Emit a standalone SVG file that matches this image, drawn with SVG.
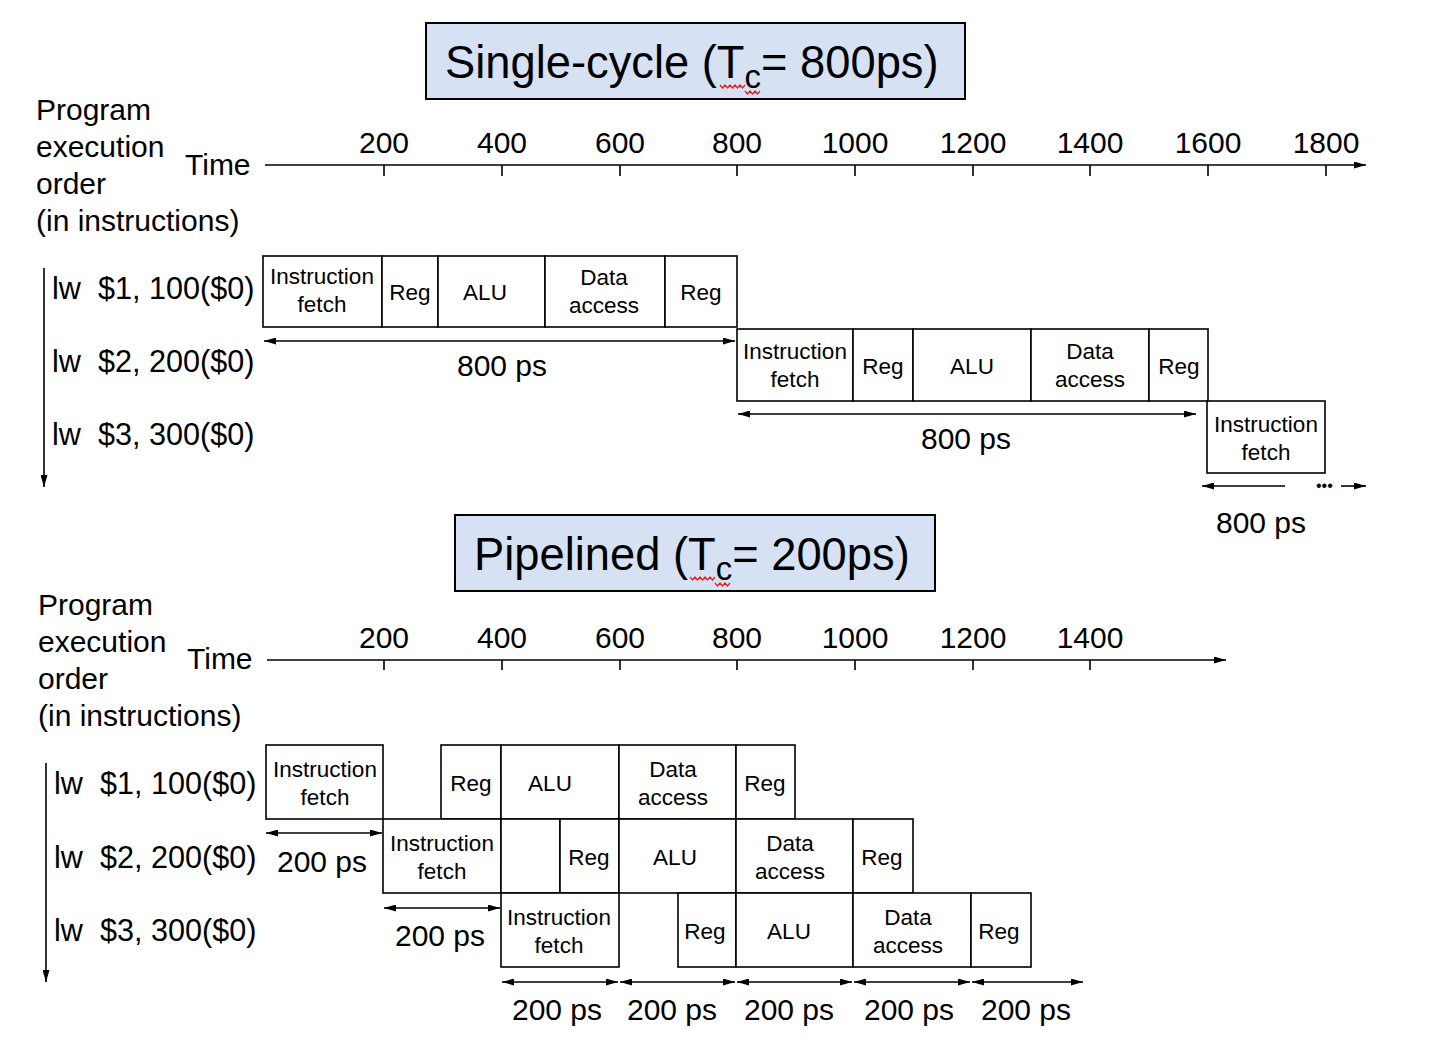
<svg xmlns="http://www.w3.org/2000/svg" width="1434" height="1060" viewBox="0 0 1434 1060">
<style>
text{font-family:"Liberation Sans",Arial,sans-serif;fill:#000}
.lbl{font-size:30px}
.ins{font-size:30.6px}
.mid{text-anchor:middle}
.box{font-size:22.5px;text-anchor:middle}
.ttl{font-size:45.3px}
.sub{font-size:33px}
rect.st{fill:#fff;stroke:#000;stroke-width:1.6}
rect.tb{fill:#d6e2f4;stroke:#000;stroke-width:2}
.ln{stroke:#000;stroke-width:1.6;fill:none}
.arr{stroke:#000;stroke-width:1.6;fill:none;marker-end:url(#ah)}
.dbl{stroke:#000;stroke-width:1.6;fill:none;marker-end:url(#ah);marker-start:url(#ah)}
.sq{stroke:#e02020;stroke-width:1.3;fill:none}
</style>
<defs>
<marker id="ah" viewBox="0 0 12 7" refX="12" refY="3.5" markerWidth="12" markerHeight="7" markerUnits="userSpaceOnUse" orient="auto-start-reverse"><path d="M0,0 L12,3.5 L0,7 z" fill="#000"/></marker>
</defs>
<rect width="1434" height="1060" fill="#fff"/>

<!-- Titles -->
<g id="title-single">
<rect class="tb" x="426" y="23" width="539" height="76"/>
<text class="ttl" x="445" y="78">Single-cycle (T<tspan class="sub" dy="10">c</tspan><tspan dy="-10">= 800ps)</tspan></text>
<polyline class="sq" points="720,85 722.5,88 725,85 727.5,88 730,85 732.5,88 735,85 737.5,88 740,85 742.5,88 745,85"/>
<polyline class="sq" points="745,91 747.5,94 750,91 752.5,94 755,91 757.5,94 760,91"/>
</g>
<g id="title-pipe">
<rect class="tb" x="455" y="515" width="480" height="76"/>
<text class="ttl" x="474" y="570">Pipelined (T<tspan class="sub" dy="10">c</tspan><tspan dy="-10">= 200ps)</tspan></text>
<polyline class="sq" points="690,577 692.5,580 695,577 697.5,580 700,577 702.5,580 705,577 707.5,580 710,577 712.5,580 715,577"/>
<polyline class="sq" points="715,583 717.5,586 720,583 722.5,586 725,583 727.5,586 730,583"/>
</g>

<!-- Single-cycle labels -->
<g id="labels-single">
<text class="lbl" x="36" y="120">Program</text>
<text class="lbl" x="36" y="157">execution</text>
<text class="lbl" x="36" y="194">order</text>
<text class="lbl" x="36" y="231">(in instructions)</text>
<text class="lbl" x="185" y="175">Time</text>
<text class="lbl mid" x="384" y="153">200</text>
<text class="lbl mid" x="502" y="153">400</text>
<text class="lbl mid" x="620" y="153">600</text>
<text class="lbl mid" x="737" y="153">800</text>
<text class="lbl mid" x="855" y="153">1000</text>
<text class="lbl mid" x="973" y="153">1200</text>
<text class="lbl mid" x="1090" y="153">1400</text>
<text class="lbl mid" x="1208" y="153">1600</text>
<text class="lbl mid" x="1326" y="153">1800</text>
<text class="ins" x="52" y="299">lw&#160; $1, 100($0)</text>
<text class="ins" x="52" y="372">lw&#160; $2, 200($0)</text>
<text class="ins" x="52" y="445">lw&#160; $3, 300($0)</text>
<text class="lbl mid" x="502" y="376">800 ps</text>
<text class="lbl mid" x="966" y="449">800 ps</text>
<text class="lbl mid" x="1261" y="533">800 ps</text>
<text x="1316" y="491" style="font-size:16px">•••</text>
</g>

<!-- Pipelined labels -->
<g id="labels-pipe">
<text class="lbl" x="38" y="615">Program</text>
<text class="lbl" x="38" y="652">execution</text>
<text class="lbl" x="38" y="689">order</text>
<text class="lbl" x="38" y="726">(in instructions)</text>
<text class="lbl" x="187" y="669">Time</text>
<text class="lbl mid" x="384" y="648">200</text>
<text class="lbl mid" x="502" y="648">400</text>
<text class="lbl mid" x="620" y="648">600</text>
<text class="lbl mid" x="737" y="648">800</text>
<text class="lbl mid" x="855" y="648">1000</text>
<text class="lbl mid" x="973" y="648">1200</text>
<text class="lbl mid" x="1090" y="648">1400</text>
<text class="ins" x="54" y="794">lw&#160; $1, 100($0)</text>
<text class="ins" x="54" y="868">lw&#160; $2, 200($0)</text>
<text class="ins" x="54" y="941">lw&#160; $3, 300($0)</text>
<text class="lbl mid" x="322" y="872">200 ps</text>
<text class="lbl mid" x="440" y="946">200 ps</text>
<text class="lbl mid" x="557" y="1020">200 ps</text>
<text class="lbl mid" x="672" y="1020">200 ps</text>
<text class="lbl mid" x="789" y="1020">200 ps</text>
<text class="lbl mid" x="909" y="1020">200 ps</text>
<text class="lbl mid" x="1026" y="1020">200 ps</text>
</g>

<!-- Single-cycle stages -->
<g id="s1">
<rect class="st" x="263" y="256" width="119" height="71"/>
<rect class="st" x="382" y="256" width="56" height="71"/>
<rect class="st" x="438" y="256" width="107" height="71"/>
<rect class="st" x="545" y="256" width="120" height="71"/>
<rect class="st" x="665" y="256" width="72" height="71"/>
<text class="box" x="322" y="284">Instruction</text><text class="box" x="322" y="312">fetch</text>
<text class="box" x="410" y="300">Reg</text>
<text class="box" x="485" y="300">ALU</text>
<text class="box" x="604" y="285">Data</text><text class="box" x="604" y="313">access</text>
<text class="box" x="701" y="300">Reg</text>
</g>
<g id="s2">
<rect class="st" x="737" y="329" width="116" height="72"/>
<rect class="st" x="853" y="329" width="60" height="72"/>
<rect class="st" x="913" y="329" width="118" height="72"/>
<rect class="st" x="1031" y="329" width="118" height="72"/>
<rect class="st" x="1149" y="329" width="59" height="72"/>
<text class="box" x="795" y="359">Instruction</text><text class="box" x="795" y="387">fetch</text>
<text class="box" x="883" y="374">Reg</text>
<text class="box" x="972" y="374">ALU</text>
<text class="box" x="1090" y="359">Data</text><text class="box" x="1090" y="387">access</text>
<text class="box" x="1179" y="374">Reg</text>
</g>
<g id="s3">
<rect class="st" x="1207" y="401" width="118" height="72"/>
<text class="box" x="1266" y="432">Instruction</text><text class="box" x="1266" y="460">fetch</text>
</g>

<!-- Pipelined stages -->
<g id="p1">
<rect class="st" x="266" y="745" width="117" height="74"/>
<rect class="st" x="441" y="745" width="60" height="74"/>
<rect class="st" x="501" y="745" width="118" height="74"/>
<rect class="st" x="619" y="745" width="117" height="74"/>
<rect class="st" x="736" y="745" width="59" height="74"/>
<text class="box" x="325" y="777">Instruction</text><text class="box" x="325" y="805">fetch</text>
<text class="box" x="471" y="791">Reg</text>
<text class="box" x="550" y="791">ALU</text>
<text class="box" x="673" y="777">Data</text><text class="box" x="673" y="805">access</text>
<text class="box" x="765" y="791">Reg</text>
</g>
<g id="p2">
<rect class="st" x="383" y="819" width="118" height="74"/>
<rect class="st" x="501" y="819" width="59" height="74"/>
<rect class="st" x="560" y="819" width="59" height="74"/>
<rect class="st" x="619" y="819" width="117" height="74"/>
<rect class="st" x="736" y="819" width="117" height="74"/>
<rect class="st" x="853" y="819" width="60" height="74"/>
<text class="box" x="442" y="851">Instruction</text><text class="box" x="442" y="879">fetch</text>
<text class="box" x="589" y="865">Reg</text>
<text class="box" x="675" y="865">ALU</text>
<text class="box" x="790" y="851">Data</text><text class="box" x="790" y="879">access</text>
<text class="box" x="882" y="865">Reg</text>
</g>
<g id="p3">
<rect class="st" x="501" y="893" width="118" height="74"/>
<rect class="st" x="678" y="893" width="58" height="74"/>
<rect class="st" x="736" y="893" width="117" height="74"/>
<rect class="st" x="853" y="893" width="118" height="74"/>
<rect class="st" x="971" y="893" width="60" height="74"/>
<text class="box" x="559" y="925">Instruction</text><text class="box" x="559" y="953">fetch</text>
<text class="box" x="705" y="939">Reg</text>
<text class="box" x="789" y="939">ALU</text>
<text class="box" x="908" y="925">Data</text><text class="box" x="908" y="953">access</text>
<text class="box" x="999" y="939">Reg</text>
</g>

<!-- Connectors -->
<g id="connectors">
<line class="arr" x1="265" y1="165" x2="1366" y2="165"/>
<path class="ln" d="M384,165v11M502,165v11M620,165v11M737,165v11M855,165v11M973,165v11M1090,165v11M1208,165v11M1326,165v11"/>
<line class="arr" x1="44" y1="268" x2="44" y2="487"/>
<line class="dbl" x1="264" y1="341" x2="735" y2="341"/>
<line class="dbl" x1="738" y1="414" x2="1196" y2="414"/>
<line class="arr" x1="1285" y1="486" x2="1202" y2="486"/>
<line class="arr" x1="1341" y1="486" x2="1366" y2="486"/>

<line class="arr" x1="267" y1="660" x2="1226" y2="660"/>
<path class="ln" d="M384,660v10M502,660v10M620,660v10M737,660v10M855,660v10M973,660v10M1090,660v10"/>
<line class="arr" x1="46" y1="763" x2="46" y2="982"/>
<line class="dbl" x1="266" y1="833" x2="382" y2="833"/>
<line class="dbl" x1="384" y1="908" x2="500" y2="908"/>
<line class="dbl" x1="502" y1="982" x2="618" y2="982"/>
<line class="dbl" x1="620" y1="982" x2="735" y2="982"/>
<line class="dbl" x1="737" y1="982" x2="852" y2="982"/>
<line class="dbl" x1="854" y1="982" x2="970" y2="982"/>
<line class="dbl" x1="972" y1="982" x2="1083" y2="982"/>
</g>
</svg>
